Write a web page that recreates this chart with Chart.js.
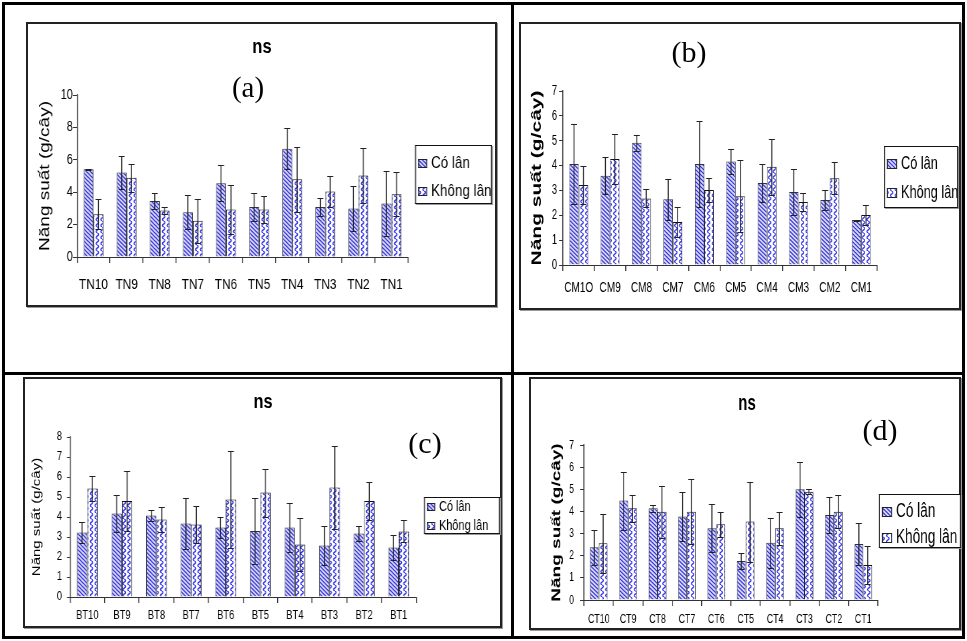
<!DOCTYPE html>
<html>
<head>
<meta charset="utf-8">
<script src="https://cdn.jsdelivr.net/npm/chart.js@4.4.1/dist/chart.umd.min.js"></script>
<style>
  body { margin: 0; background: #fff; width: 967px; height: 641px; position: relative; overflow: hidden; }
  .abs { position: absolute; }
  .frame { position: absolute; border: 3px solid #000; box-sizing: border-box; }
  .box { position: absolute; border: 2px solid #222; box-sizing: border-box; box-shadow: 1px 1px 0 #999; }
  .lbl { position: absolute; white-space: nowrap; color: #000; line-height: 1; }
  .ns { font-family: "Liberation Sans", Arial, sans-serif; font-weight: bold; }
  .tag { font-family: "Liberation Serif", "Times New Roman", serif; transform: translate(-50%, -50%); }
  canvas { position: absolute; }
</style>
</head>
<body>
<!-- table lines -->
<div class="frame" style="left:2px;top:2px;width:963px;height:637px"></div>
<div class="abs" style="left:511px;top:2px;width:3px;height:637px;background:#000"></div>
<div class="abs" style="left:2px;top:372px;width:963px;height:3px;background:#000"></div>

<!-- chart frames -->
<div class="box" style="left:26px;top:22px;width:471px;height:285px"></div>
<div class="box" style="left:519px;top:22px;width:442px;height:288px"></div>
<div class="box" style="left:23px;top:377px;width:479px;height:251px"></div>
<div class="box" style="left:529px;top:377px;width:432px;height:253px"></div>

<canvas id="chartA"></canvas>
<canvas id="chartB"></canvas>
<canvas id="chartC"></canvas>
<canvas id="chartD"></canvas>

<div class="lbl ns" style="left:262px;top:45px;font-size:21px;transform:translate(-50%,-50%) scaleX(0.79)">ns</div>
<div class="lbl tag" style="left:248px;top:87px;font-size:29px">(a)</div>
<div class="lbl tag" style="left:689px;top:52px;font-size:30px">(b)</div>
<div class="lbl ns" style="left:263px;top:400px;font-size:21px;transform:translate(-50%,-50%) scaleX(0.78)">ns</div>
<div class="lbl tag" style="left:425px;top:443px;font-size:30px">(c)</div>
<div class="lbl ns" style="left:747px;top:403px;font-size:22px;transform:translate(-50%,-50%) scaleX(0.68)">ns</div>
<div class="lbl tag" style="left:880px;top:430px;font-size:30px">(d)</div>

<script>
const seriesNames = ['Có lân', 'Không lân'];
const yTitle = 'Năng suất (g/cây)';

// (a)
const tnLabels = ['TN10', 'TN9', 'TN8', 'TN7', 'TN6', 'TN5', 'TN4', 'TN3', 'TN2', 'TN1'];
const tnCo = [5.42, 5.22, 3.46, 2.76, 4.56, 3.09, 6.68, 3.09, 2.99, 3.3];
const tnCoErr = [0.03, 1.03, 0.5, 1.05, 1.13, 0.87, 1.26, 0.58, 1.38, 1.98];
const tnKhong = [2.64, 4.89, 2.87, 2.23, 2.93, 2.93, 4.8, 4.04, 5.03, 3.88];
const tnKhongErr = [0.93, 0.88, 0.22, 1.34, 1.5, 0.85, 2.0, 0.97, 1.67, 1.34];

// (b)
const cmLabels = ['CM1O', 'CM9', 'CM8', 'CM7', 'CM6', 'CM5', 'CM4', 'CM3', 'CM2', 'CM1'];
const cmCo = [4.06, 3.59, 4.92, 2.65, 4.06, 4.16, 3.3, 2.94, 2.61, 1.81];
const cmCoErr = [1.6, 0.75, 0.33, 0.82, 1.73, 0.5, 0.75, 0.91, 0.39, 0.02];
const cmKhong = [3.22, 4.26, 2.68, 1.73, 3.02, 2.77, 3.95, 2.53, 3.49, 2.01];
const cmKhongErr = [0.76, 1.0, 0.36, 0.59, 0.47, 1.44, 1.12, 0.35, 0.64, 0.39];

// (c)
const btLabels = ['BT10', 'BT9', 'BT8', 'BT7', 'BT6', 'BT5', 'BT4', 'BT3', 'BT2', 'BT1'];
const btCo = [3.22, 4.17, 4.08, 3.67, 3.47, 3.3, 3.47, 2.58, 3.17, 2.47];
const btCoErr = [0.53, 0.91, 0.27, 1.28, 0.53, 1.65, 1.23, 0.97, 0.38, 0.61];
const btKhong = [5.42, 4.8, 3.87, 3.62, 4.87, 5.22, 2.62, 5.47, 4.8, 3.28];
const btKhongErr = [0.63, 1.5, 0.63, 0.93, 2.42, 1.2, 1.33, 2.08, 0.95, 0.55];

// (d)
const ctLabels = ['CT10', 'CT9', 'CT8', 'CT7', 'CT6', 'CT5', 'CT4', 'CT3', 'CT2', 'CT1'];
const ctCo = [2.38, 4.49, 4.14, 3.77, 3.24, 1.76, 2.59, 5.0, 3.84, 2.53];
const ctCoErr = [0.78, 1.31, 0.15, 1.1, 1.08, 0.38, 1.13, 1.25, 0.83, 0.93];
const ctKhong = [2.56, 4.14, 3.99, 3.99, 3.42, 3.54, 3.24, 4.89, 3.99, 1.58];
const ctKhongErr = [1.33, 0.6, 1.18, 1.48, 0.57, 1.81, 0.75, 0.11, 0.75, 0.86];

const FONT = '"Liberation Sans", Arial, sans-serif';

function stripePattern(ctx, k) {
    const c = document.createElement('canvas');
    const w = Math.round(4 / k);
    c.width = w; c.height = 4;
    const g = c.getContext('2d');
    g.fillStyle = '#d8d8ff';
    g.fillRect(0, 0, w, 4);
    g.strokeStyle = '#3030d0';
    g.lineWidth = 1.3;
    g.beginPath();
    g.moveTo(0, 0); g.lineTo(w, 4);
    g.moveTo(-w / 4, 3); g.lineTo(w / 4, 5);
    g.moveTo(w * 3 / 4, -1); g.lineTo(w * 5 / 4, 1);
    g.stroke();
    return ctx.createPattern(c, 'repeat');
}

// vertical wavy lines, a column every 5 page px
function wavePattern(ctx, k) {
    const c = document.createElement('canvas');
    const w = Math.round(5 / k);
    c.width = w; c.height = 6;
    const g = c.getContext('2d');
    g.fillStyle = '#ffffff';
    g.fillRect(0, 0, w, 6);
    g.strokeStyle = '#3838f0';
    g.lineWidth = 1.4;
    g.beginPath();
    g.moveTo(w / 2, 0);
    g.quadraticCurveTo(w * 1.05, 1.5, w / 2, 3);
    g.quadraticCurveTo(-w * 0.05, 4.5, w / 2, 6);
    g.stroke();
    return ctx.createPattern(c, 'repeat');
}

// outline with vertical edges widened so they survive the horizontal squeeze
function outline(ctx, x, y, w, h, k, color) {
    ctx.fillStyle = color;
    ctx.fillRect(x, y, w, 1);
    ctx.fillRect(x, y + h - 1, w, 1);
    ctx.fillRect(x, y, 1 / k, h);
    ctx.fillRect(x + w - 1 / k, y, 1 / k, h);
}

// error bars from dataset.errors, drawn through the y scale
const errorBars = {
    id: 'errorBars',
    afterDatasetsDraw(chart, args, o) {
        const ctx = chart.ctx;
        const y = chart.scales.y;
        const k = o.k, cap = 3 / k;
        ctx.save();
        ctx.strokeStyle = '#222';
        chart.data.datasets.forEach((ds, i) => {
            chart.getDatasetMeta(i).data.forEach((bar, j) => {
                const v = ds.data[j], e = ds.errors[j];
                const x = bar.x;
                const t = Math.round(y.getPixelForValue(v + e)) + 0.5;
                const b = Math.round(y.getPixelForValue(v - e)) + 0.5;
                ctx.lineWidth = 1 / k;
                ctx.beginPath();
                ctx.moveTo(x, t); ctx.lineTo(x, b);
                ctx.stroke();
                ctx.lineWidth = 1;
                ctx.beginPath();
                ctx.moveTo(x - cap, t); ctx.lineTo(x + cap, t);
                ctx.moveTo(x - cap, b); ctx.lineTo(x + cap, b);
                ctx.stroke();
            });
        });
        ctx.restore();
    }
};

// excel style legend box right of the plot
const boxLegend = {
    id: 'boxLegend',
    afterDraw(chart, args, o) {
        const a = chart.chartArea, ctx = chart.ctx, k = o.k;
        const left = a.right + o.dx / k;
        const w = o.w / k;
        const cy = (a.top + a.bottom) / 2 + o.dy;
        const top = Math.round(cy - o.h / 2);
        ctx.save();
        outline(ctx, left + 1 / k, top + 1, w, o.h, k, '#999');
        ctx.fillStyle = '#fff';
        ctx.fillRect(left, top, w, o.h);
        outline(ctx, left, top, w, o.h, k, '#111');
        ctx.font = o.size + 'px ' + FONT;
        ctx.textBaseline = 'middle';
        chart.data.datasets.forEach((ds, i) => {
            const yc = cy + o.itemDy + (i - 0.5) * o.gap;
            const sx = left + o.pad / k;
            const sw = o.sw / k;
            const sy = Math.round(yc - o.sw / 2);
            ctx.fillStyle = ds.backgroundColor;
            ctx.fillRect(sx, sy, sw, o.sw);
            outline(ctx, sx, sy, sw, o.sw, k, '#222');
            ctx.fillStyle = '#000';
            ctx.fillText(ds.label, sx + sw + 4 / k, yc);
        });
        ctx.restore();
    }
};

// s holds page pixel sizes; k squeezes the canvas horizontally like the scanned figure
function makeChart(id, pos, labels, co, coErr, khong, khongErr, s) {
    const k = s.k;
    const canvas = document.getElementById(id);
    canvas.width = Math.round(pos.w / k);
    canvas.height = pos.h;
    canvas.style.left = pos.x + 'px';
    canvas.style.top = pos.y + 'px';
    canvas.style.width = pos.w + 'px';
    canvas.style.height = pos.h + 'px';
    const ctx = canvas.getContext('2d');
    return new Chart(ctx, {
        type: 'bar',
        data: {
            labels: labels,
            datasets: [
                { label: seriesNames[0], data: co, errors: coErr, backgroundColor: stripePattern(ctx, k),
                  borderColor: '#333', borderWidth: 1, categoryPercentage: 0.6, barPercentage: 1 },
                { label: seriesNames[1], data: khong, errors: khongErr, backgroundColor: wavePattern(ctx, k),
                  borderColor: '#111', borderWidth: 1, categoryPercentage: 0.6, barPercentage: 1 },
            ],
        },
        options: {
            responsive: false,
            animation: false,
            devicePixelRatio: 1,
            layout: { padding: { left: 0, top: s.top, right: (pos.w - s.right) / k, bottom: pos.h - s.bottom - s.xH } },
            plugins: {
                legend: { display: false },
                tooltip: { enabled: false },
                errorBars: { k: k },
                boxLegend: Object.assign({ k: k }, s.legend),
            },
            scales: {
                x: {
                    grid: { drawOnChartArea: false, tickLength: 6, color: '#333', lineWidth: 1 / k, offset: true },
                    border: { color: '#333' },
                    ticks: { color: '#000', padding: s.xPad, maxRotation: 0, autoSkip: false,
                             font: { family: FONT, size: s.xFont } },
                    afterFit: (sc) => { sc.height = s.xH; },
                },
                y: {
                    min: 0, max: s.yMax,
                    grid: { drawOnChartArea: false, tickLength: s.yTick / k, color: '#333' },
                    border: { color: '#333', width: 1 / k },
                    ticks: { stepSize: s.step, color: '#000', padding: s.yPad / k,
                             font: { family: FONT, size: s.yFont } },
                    title: { display: true, text: yTitle, color: '#000',
                             padding: { top: s.titleX / k - 0.6 * s.tFont, bottom: 0 },
                             font: { family: FONT, size: s.tFont, weight: s.tWeight } },
                    afterFit: (sc) => { sc.width = s.left / k; },
                },
            },
        },
        plugins: [errorBars, boxLegend],
    });
}

makeChart('chartA', { x: 5, y: 5, w: 506, h: 367 }, tnLabels, tnCo, tnCoErr, tnKhong, tnKhongErr, {
    k: 0.79, left: 72, right: 403, top: 90, bottom: 252, xH: 40,
    yMax: 10, step: 2, xPad: 13, yPad: 0, yTick: 4,
    xFont: 15, yFont: 14, tFont: 19, tWeight: 'normal', titleX: 40,
    legend: { dx: 7, w: 77, h: 59, dy: -1.5, gap: 28, itemDy: 3, size: 17, sw: 9, pad: 3 },
});

makeChart('chartB', { x: 514, y: 5, w: 449, h: 367 }, cmLabels, cmCo, cmCoErr, cmKhong, cmKhongErr, {
    k: 0.67, left: 49, right: 363, top: 86, bottom: 260, xH: 40,
    yMax: 7, step: 1, xPad: 8, yPad: 2, yTick: 4,
    xFont: 15, yFont: 14, tFont: 21, tWeight: 'bold', titleX: 23,
    legend: { dx: 7, w: 74, h: 62, dy: -1, gap: 29, itemDy: 1.5, size: 19, sw: 10, pad: 3 },
});

makeChart('chartC', { x: 5, y: 375, w: 506, h: 262 }, btLabels, btCo, btCoErr, btKhong, btKhongErr, {
    k: 0.78, left: 65, right: 411, top: 62, bottom: 222, xH: 38,
    yMax: 8, step: 1, xPad: 5, yPad: 5, yTick: 3,
    xFont: 12, yFont: 12, tFont: 15, tWeight: 'normal', titleX: 32,
    legend: { dx: 8, w: 76, h: 37, dy: -1.5, gap: 19, itemDy: 1, size: 14, sw: 8, pad: 3 },
});

makeChart('chartD', { x: 514, y: 375, w: 449, h: 262 }, ctLabels, ctCo, ctCoErr, ctKhong, ctKhongErr, {
    k: 0.68, left: 70, right: 364, top: 70, bottom: 225, xH: 35,
    yMax: 7, step: 1, xPad: 6, yPad: 6, yTick: 4,
    xFont: 13, yFont: 13, tFont: 19, tWeight: 'bold', titleX: 43,
    legend: { dx: 1, w: 82, h: 54, dy: -1.5, gap: 26, itemDy: 3.5, size: 20, sw: 10, pad: 3 },
});
</script>
</body>
</html>
